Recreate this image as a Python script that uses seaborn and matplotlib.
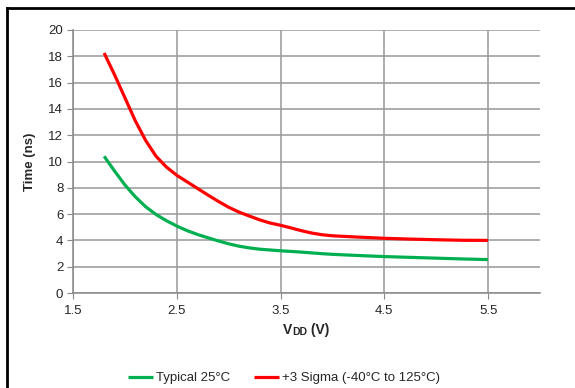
import pandas as pd
import matplotlib.pyplot as plt
import seaborn as sns
from matplotlib.lines import Line2D

# ---- data ----
vdd = [1.8, 1.9, 2.0, 2.1, 2.2, 2.3, 2.4, 2.5, 2.6, 2.7, 2.8, 2.9, 3.0, 3.1, 3.2,
       3.3, 3.4, 3.5, 3.6, 3.7, 3.8, 3.9, 4.0, 4.25, 4.5, 4.75, 5.0, 5.25, 5.5]
typical = [10.4, 9.28, 8.22, 7.32, 6.56, 5.97, 5.5, 5.09, 4.74, 4.45, 4.2, 3.96, 3.74, 3.56, 3.43,
           3.33, 3.27, 3.21, 3.16, 3.11, 3.05, 2.99, 2.94, 2.85, 2.77, 2.71, 2.65, 2.59, 2.54]
sigma3 = [18.25, 16.6, 14.85, 13.1, 11.6, 10.4, 9.58, 8.95, 8.45, 7.95, 7.45, 6.97, 6.52, 6.15, 5.85,
          5.56, 5.32, 5.15, 4.95, 4.74, 4.56, 4.43, 4.35, 4.25, 4.16, 4.1, 4.05, 4.01, 4.0]
series = ["Typical 25°C", "+3 Sigma (-40°C to 125°C)"]
colors = ["#00B050", "#FF0000"]

df = pd.DataFrame({
    "VDD": vdd + vdd,
    "Time": typical + sigma3,
    "Series": [series[0]] * len(vdd) + [series[1]] * len(vdd),
})

sns.set_style("white")
plt.rcParams['font.family'] = ['Liberation Sans', 'DejaVu Sans']

fig = plt.figure(figsize=(5.75, 3.88), dpi=100)
ax = fig.add_axes([73 / 575, 1 - 293 / 388, (540 - 73) / 575, (293 - 30) / 388])

sns.lineplot(data=df, x="VDD", y="Time", hue="Series", palette=colors,
             linewidth=2.3, ax=ax, sort=False, solid_joinstyle="round", solid_capstyle="butt")

ax.set_xlim(1.5, 6.0)
ax.set_ylim(0, 20)
ax.set_xticks([1.5, 2.5, 3.5, 4.5, 5.5])
ax.set_xticklabels(["1.5", "2.5", "3.5", "4.5", "5.5"])
ax.set_yticks(range(0, 21, 2))
ax.grid(True, color="#999999", linewidth=1.1)
ax.set_axisbelow(True)
for s in ["top", "right"]:
    ax.spines[s].set_visible(False)
for s in ["left", "bottom"]:
    ax.spines[s].set_color("#888888")
    ax.spines[s].set_linewidth(1.1)
ax.tick_params(axis="both", length=4, color="#888888", labelsize=9.5, pad=3, direction="out")
ax.tick_params(axis="x", pad=4.5)
ax.tick_params(left=True, bottom=True)

ax.set_ylabel("Time (ns)", fontsize=9.5, fontweight="bold", labelpad=9)
ax.set_xlabel("")

# V_DD label with small caps "DD"
t1 = fig.text(283 / 575, 1 - 334 / 388, "V", fontsize=10, fontweight="bold", ha="left", va="baseline")
t2 = ax.annotate("DD", xy=(1, 0), xycoords=t1, fontsize=7.5, fontweight="bold", ha="left", va="bottom")
ax.annotate(" (V)", xy=(1, 0), xycoords=t2, fontsize=10, fontweight="bold", ha="left", va="bottom")

ax.legend(loc="center", bbox_to_anchor=(284 / 575, 1 - 378 / 388), bbox_transform=fig.transFigure,
          ncol=2, frameon=False, fontsize=9.5, handlelength=1.9, handletextpad=0.2,
          columnspacing=1.8)

# outer frame: only left and top edges fall inside the picture
fx, fy = 7 / 575, 1 - 7.5 / 388
fig.add_artist(Line2D([fx, fx], [0, fy], transform=fig.transFigure, color="black", linewidth=2,
                      solid_capstyle="projecting"))
fig.add_artist(Line2D([fx, 1], [fy, fy], transform=fig.transFigure, color="black", linewidth=2,
                      solid_capstyle="projecting"))

fig.savefig("out.png", dpi=100)
